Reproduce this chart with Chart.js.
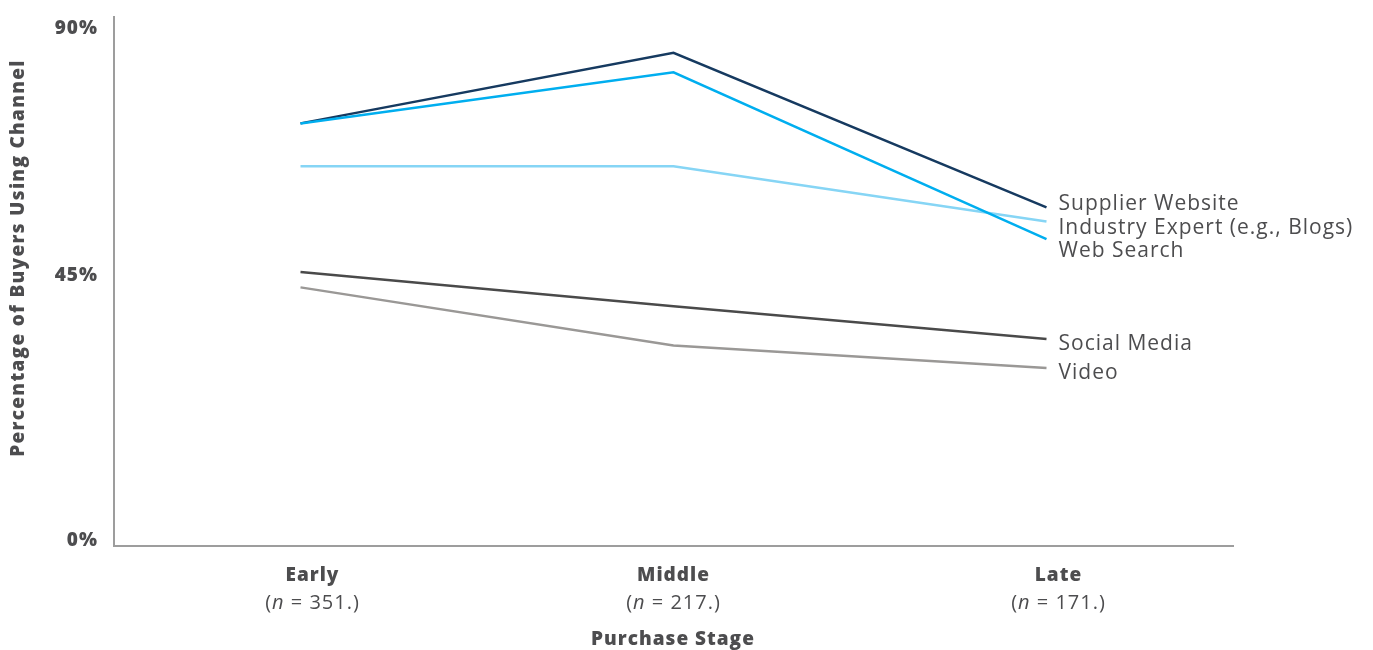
<!DOCTYPE html>
<html>
<head>
<meta charset="utf-8">
<script src="https://cdn.jsdelivr.net/npm/chart.js@4/dist/chart.umd.min.js"></script>
<style>
  html, body { margin: 0; padding: 0; background: #ffffff; }
  #wrap { width: 1373px; height: 650px; position: relative; }
</style>
</head>
<body>
<div id="wrap"><canvas id="c" width="1373" height="650"></canvas></div>
<script>
// Purchase stages and their sample sizes
const stages = ['Early', 'Middle', 'Late'];
const sampleSizes = ['351', '217', '171'];

// Share of buyers (%) using each channel at each stage
const supplierWebsite = [71.9, 83.9, 57.6];
const webSearch       = [71.9, 80.6, 52.2];
const industryExpert  = [64.6, 64.6, 55.2];
const socialMedia     = [46.6, 40.8, 35.2];
const video           = [44.0, 34.1, 30.3];

// Y-axis ticks
const yTicks = [0, 45, 90];
const yTickLabels = ['0%', '45%', '90%'];

const TEXT = '#4d4d4f';
const FONT = '"Open Sans", "Liberation Sans", sans-serif';

const series = [
  { name: 'Web Search',                   data: webSearch,       color: '#00aeef' },
  { name: 'Supplier Website',             data: supplierWebsite, color: '#163a60' },
  { name: 'Industry Expert (e.g., Blogs)',data: industryExpert,  color: '#86d5f5' },
  { name: 'Social Media',                 data: socialMedia,     color: '#4a4a4a' },
  { name: 'Video',                        data: video,           color: '#9a9896' }
];

function setFont(ctx, font, spacing) {
  ctx.font = font;
  ctx.letterSpacing = spacing || '0px';
}

// Draws tick labels, axis titles and end-of-line series labels
const annotations = {
  id: 'annotations',
  afterDraw(chart) {
    const ctx = chart.ctx;
    const xs = chart.scales.x, ys = chart.scales.y;
    ctx.save();
    ctx.fillStyle = TEXT;
    ctx.textBaseline = 'middle';

    // y tick labels
    const yNudge = [-5, -6, 12];
    setFont(ctx, '800 19px ' + FONT, '1px');
    ctx.textAlign = 'right';
    yTicks.forEach((v, i) => {
      ctx.fillText(yTickLabels[i], 98, ys.getPixelForValue(v) + yNudge[i]);
    });

    // category labels: bold stage name + sample size with italic n
    const xNudge = [12, 0, 12];
    stages.forEach((s, i) => {
      const cx = xs.getPixelForValue(i) + xNudge[i];
      ctx.textAlign = 'center';
      setFont(ctx, '800 19px ' + FONT, '1px');
      ctx.fillText(s, cx, 576);
      const parts = [
        { t: '(', f: '400 20px ' + FONT },
        { t: 'n', f: 'italic 400 20px ' + FONT },
        { t: ' = ' + sampleSizes[i] + '.)', f: '400 20px ' + FONT }
      ];
      let total = 0;
      parts.forEach(p => { setFont(ctx, p.f, '1px'); p.w = ctx.measureText(p.t).width; total += p.w; });
      let x = cx - total / 2;
      ctx.textAlign = 'left';
      parts.forEach(p => { setFont(ctx, p.f, '1px'); ctx.fillText(p.t, x, 603); x += p.w; });
    });

    // x-axis title
    ctx.textAlign = 'center';
    setFont(ctx, '800 19px ' + FONT, '1px');
    ctx.fillText('Purchase Stage', 673, 640);

    // y-axis title
    ctx.save();
    ctx.translate(19, 258);
    ctx.rotate(-Math.PI / 2);
    setFont(ctx, '800 19px ' + FONT, '1.3px');
    ctx.fillText('Percentage of Buyers Using Channel', 0, 0);
    ctx.restore();

    // series labels at line ends, spread apart where they would collide
    const last = stages.length - 1;
    const lx = xs.getPixelForValue(last) + 12;
    const gap = 23.5;
    const items = series.map(s => ({ name: s.name, y0: ys.getPixelForValue(s.data[last]) + 5 }))
      .sort((a, b) => a.y0 - b.y0);
    let groups = items.map(it => ({ members: [it] }));
    const place = g => {
      const mean = g.members.reduce((a, m) => a + m.y0, 0) / g.members.length;
      const start = mean - gap * (g.members.length - 1) / 2;
      g.members.forEach((m, k) => { m.y = start + k * gap; });
    };
    groups.forEach(place);
    let merged = true;
    while (merged) {
      merged = false;
      for (let k = 0; k < groups.length - 1; k++) {
        const a = groups[k], b = groups[k + 1];
        if (b.members[0].y - a.members[a.members.length - 1].y < gap) {
          a.members = a.members.concat(b.members);
          place(a);
          groups.splice(k + 1, 1);
          merged = true;
          break;
        }
      }
    }
    ctx.textAlign = 'left';
    setFont(ctx, '400 21px ' + FONT, '1px');
    items.forEach(it => ctx.fillText(it.name, lx, it.y));
    ctx.restore();
  }
};

const axisBorder = { display: true, color: '#9d9d9d', width: 2 };

new Chart(document.getElementById('c'), {
  type: 'line',
  data: {
    labels: stages,
    datasets: series.map(s => ({
      label: s.name,
      data: s.data,
      borderColor: s.color,
      backgroundColor: s.color,
      borderWidth: 2.5,
      pointRadius: 0,
      tension: 0,
      borderJoinStyle: 'miter',
      fill: false
    }))
  },
  options: {
    responsive: false,
    animation: false,
    devicePixelRatio: 1,
    layout: { padding: { top: 17, right: 140, left: 0, bottom: 0 } },
    plugins: { legend: { display: false }, tooltip: { enabled: false } },
    scales: {
      x: {
        type: 'category',
        offset: true,
        grid: { display: false, drawTicks: false },
        border: axisBorder,
        ticks: { display: false },
        afterFit(s) { s.height = 104; }
      },
      y: {
        min: 0,
        max: 90,
        grid: { display: false, drawTicks: false },
        border: axisBorder,
        ticks: { display: false },
        afterFit(s) { s.width = 114; }
      }
    }
  },
  plugins: [annotations]
});
</script>
</body>
</html>
